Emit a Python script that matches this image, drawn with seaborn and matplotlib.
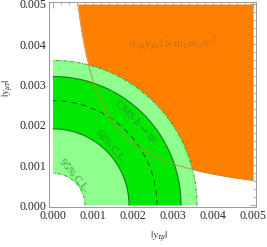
import numpy as np
import pandas as pd
import matplotlib
matplotlib.use("Agg")
import matplotlib.pyplot as plt
from matplotlib.ticker import MultipleLocator
import seaborn as sns

# Region boundaries (radii in |y| units)
ring_95 = [0.0008, 0.0036]      # light green band
ring_68 = [0.0019, 0.0032]      # dark green band
cms_radius = 0.0026             # CMS h -> tau mu dashed line
m_tau, m_mu, v_ew = 1.777, 0.1057, 246.0
bound = m_tau * m_mu / v_ew**2  # |y_tm y_mt| > m_tau m_mu / v^2
top = 0.005

sns.set_style("white")
plt.rcParams['font.family'] = ['Liberation Serif', 'DejaVu Serif']
plt.rcParams['mathtext.fontset'] = 'stix'

fig = plt.figure(figsize=(2.67, 2.47), dpi=100)
ax = fig.add_axes([0.1835, 0.162, 0.7755, 0.830])

theta = np.linspace(0, np.pi / 2, 200)

def arc(r):
    return pd.DataFrame({"x": r * np.cos(theta), "y": r * np.sin(theta)})

def ring(r_in, r_out, color):
    a, b = arc(r_out), arc(r_in)[::-1]
    ax.fill(np.r_[a.x, b.x], np.r_[a.y, b.y], color=color, lw=0, zorder=2)

# orange excluded region above the hyperbola
hx = np.linspace(bound / top, top, 400)
ax.fill_between(hx, bound / hx, top, color='#ff8000', lw=0, zorder=1)

ring(*ring_95, '#8eff8e')
ring(*ring_68, '#00e800')

dotdash = (0, (3, 1.2, 1, 1.2))
for r in ring_95:
    sns.lineplot(data=arc(r), x="x", y="y", sort=False, ax=ax, color='#3aa83a',
                 lw=0.8, linestyle=dotdash, zorder=3)
for r in ring_68:
    sns.lineplot(data=arc(r), x="x", y="y", sort=False, ax=ax, color='#1d7a1d',
                 lw=0.8, zorder=3)
sns.lineplot(data=arc(cms_radius), x="x", y="y", sort=False, ax=ax,
             color='#1d6a1d', lw=0.8, linestyle=(0, (5, 4)), zorder=3)

hyp = pd.DataFrame({"x": hx, "y": bound / hx})
sns.lineplot(data=hyp, x="x", y="y", sort=False, ax=ax, color='#c08a40',
             lw=0.6, zorder=4)

green_txt = '#2a9a2a'
ax.text(0.00207, 0.00207, r'CMS h$\rightarrow\tau\mu$', rotation=-45,
        ha='center', va='center', fontsize=8, color=green_txt, zorder=5)
ax.text(0.00144, 0.00146, '68% C.L.', rotation=-48,
        ha='center', va='center', fontsize=7.5, color=green_txt, zorder=5)
ax.text(0.00052, 0.00074, '95% C.L.', rotation=-50,
        ha='center', va='center', fontsize=7.5, color=green_txt, zorder=5)
ax.text(0.00298, 0.00402, r'$|y_{\tau\mu}y_{\mu\tau}|>m_\tau m_\mu/v^2$',
        ha='center', va='center', fontsize=9, color='#c0701a', zorder=5)

ax.set_xlim(-0.0001, 0.005075)
ax.set_ylim(-0.00004, 0.00505)
ax.xaxis.set_major_locator(MultipleLocator(0.001))
ax.yaxis.set_major_locator(MultipleLocator(0.001))
ax.xaxis.set_minor_locator(MultipleLocator(0.0002))
ax.yaxis.set_minor_locator(MultipleLocator(0.0002))
ax.xaxis.set_major_formatter(lambda v, p: f"{v:.3f}")
ax.yaxis.set_major_formatter(lambda v, p: f"{v:.3f}")
ax.tick_params(which='both', direction='in', top=True, right=True,
               color='#999999', labelsize=8.5, pad=2)
ax.tick_params(which='major', length=4, width=0.6)
ax.tick_params(which='minor', length=2, width=0.5)
for s in ax.spines.values():
    s.set_color('#999999')
    s.set_linewidth(0.7)

ax.set_xlabel(r'$|y_{\tau\mu}|$', fontsize=8)
ax.set_ylabel(r'$|y_{\mu\tau}|$', fontsize=8)
ax.xaxis.set_label_coords(0.53, -0.11)
ax.yaxis.set_label_coords(-0.16, 0.58)

fig.savefig("out.png", dpi=100)
